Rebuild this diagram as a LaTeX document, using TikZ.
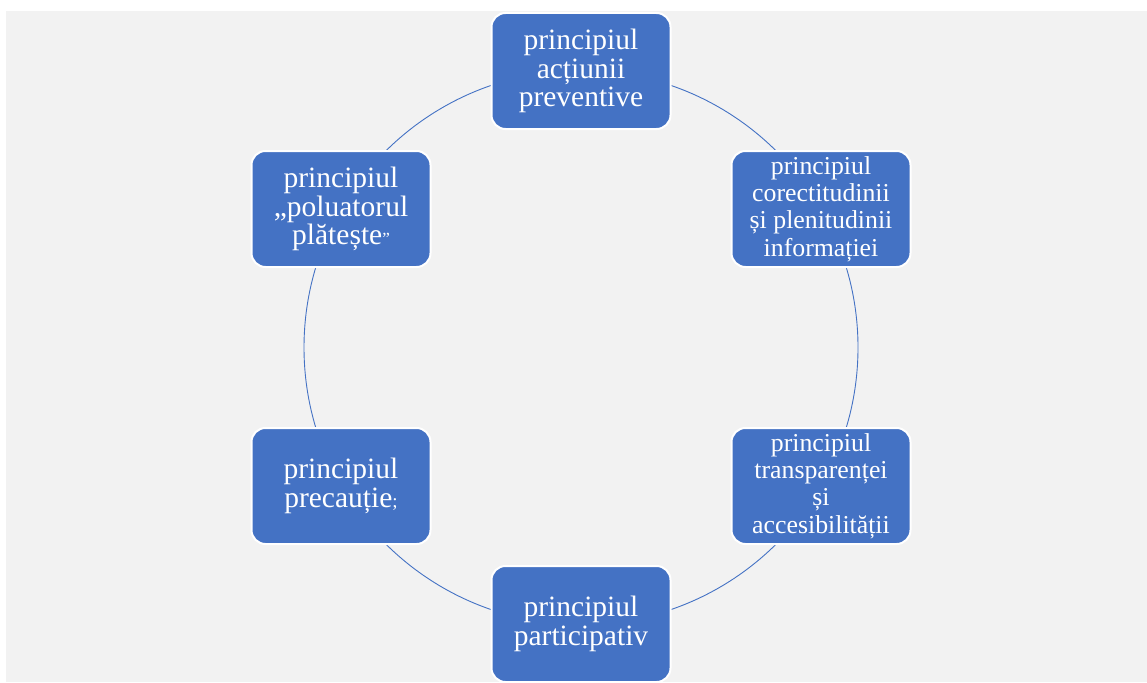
\documentclass[tikz,border=0pt]{standalone}
\usepackage{fontspec}
\setmainfont{Liberation Serif}
\definecolor{boxblue}{HTML}{4472C4}
\definecolor{panel}{HTML}{F2F2F2}
\begin{document}
\begin{tikzpicture}[x=1pt,y=-1pt,
  principle/.style={rectangle, rounded corners=14pt, fill=boxblue, draw=white,
    line width=2pt, minimum width=179pt, minimum height=116pt, text=white,
    align=center, inner sep=2pt, font=\fontsize{29.5}{28.5}\selectfont},
  smalltext/.style={font=\fontsize{25.8}{27.3}\selectfont},
  ring/.style={draw=boxblue, line width=0.9pt}]
\useasboundingbox (0,0) rectangle (1147,682);
\fill[panel] (6,11) rectangle (1147,682);
% ring linking the six principles
\coordinate (c) at (581,347.5);
\draw[ring] (c) circle[radius=277pt];
% principles
\node[principle] (top) at (581,71) {principiul\\acțiunii\\preventive};
\node[principle, smalltext] (tr) at (821,209) {principiul\\corectitudinii\\și plenitudinii\\informației};
\node[principle, smalltext] (br) at (821,486) {principiul\\transparenței\\și\\accesibilității};
\node[principle] (bot) at (581,624) {principiul\\participativ};
\node[principle] (bl) at (341,486) {principiul\\precauție{\fontsize{19}{19}\selectfont;}};
\node[principle] (tl) at (341,209) {principiul\\„poluatorul\\plătește{\fontsize{17}{17}\selectfont ”}};
\end{tikzpicture}
\end{document}
